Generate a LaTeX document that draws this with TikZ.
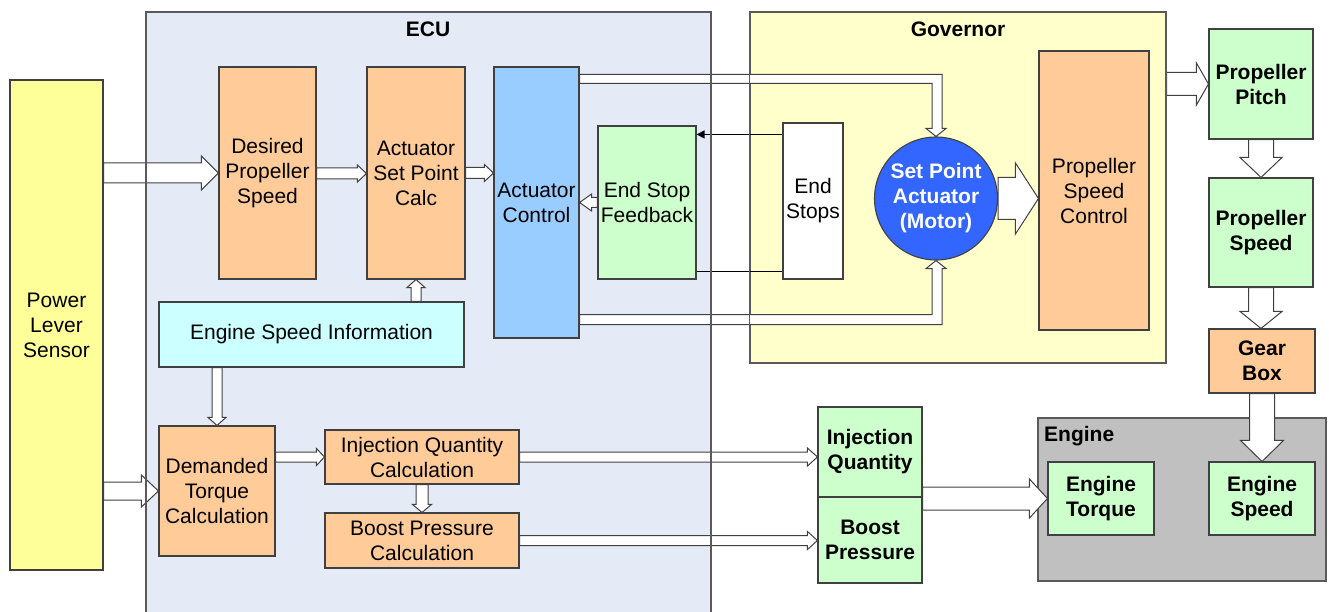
\documentclass[tikz,border=0pt]{standalone}
\usepackage{fontspec}
\setmainfont{Liberation Sans}
\usetikzlibrary{calc,arrows.meta}

\definecolor{levercol}{HTML}{FFFF99}
\definecolor{ecucol}{HTML}{E5EBF6}
\definecolor{govcol}{HTML}{FFFFCC}
\definecolor{orangecol}{HTML}{FFCC99}
\definecolor{bluecol}{HTML}{99CCFF}
\definecolor{greencol}{HTML}{CCFFCC}
\definecolor{cyancol}{HTML}{CCFFFF}
\definecolor{motorcol}{HTML}{3366FF}
\definecolor{enginecol}{HTML}{C0C0C0}
\definecolor{edgecol}{HTML}{404040}
\definecolor{framecol}{HTML}{5A5A5A}

\tikzset{
  box/.style={draw=edgecol, line width=1.1pt, inner sep=0pt, align=center,
    font=\fontsize{21}{25}\selectfont},
  boldbox/.style={box, font=\fontsize{21}{25}\selectfont\bfseries},
  frame/.style={draw=framecol, line width=1.1pt},
  title/.style={inner sep=0pt, font=\fontsize{21}{25}\selectfont\bfseries},
  blockarr/.style={draw=edgecol, fill=white, line width=1pt, line join=miter},
  thinarr/.style={draw=black, line width=1.3pt}
}

% straight block arrow: [style] from, to, shaft half width, head half width, head length
\newcommand\blockarrow[6][]{%
  \path ($(#3)!#6!(#2)$) coordinate (bac);
  \draw[blockarr,#1] ($(#2)!#4!90:(#3)$) -- ($(bac)!#4!-90:(#2)$)
    -- ($(bac)!#5!-90:(#2)$) -- (#3) -- ($(bac)!#5!90:(#2)$)
    -- ($(bac)!#4!90:(#2)$) -- ($(#2)!#4!-90:(#3)$) -- cycle;}

\begin{document}
\begin{tikzpicture}[x=1pt,y=-1pt]
\useasboundingbox (0,0) rectangle (1329,612);

% containers
\fill[ecucol] (146,612) rectangle (711,12);
\draw[frame] (146,612) -- (146,12) -- (711,12) -- (711,612);
\node[title] (ecut) at (428,29) {ECU};
\node[frame, fill=govcol, minimum width=416, minimum height=351, inner sep=0pt] (gov) at (958,187.5) {};
\node[title] (govt) at (958,29) {Governor};
\node[frame, fill=enginecol, minimum width=288, minimum height=163, inner sep=0pt] (eng) at (1182,499.5) {};
\node[title, anchor=west] (engt) at (1044,436) {Engine};

% blocks
\node[box, fill=levercol, minimum width=93, minimum height=490] (pls) at (56.5,325) {Power\\Lever\\Sensor};
\node[box, fill=orangecol, minimum width=97, minimum height=212] (dps) at (267.5,173) {Desired\\Propeller\\Speed};
\node[box, fill=orangecol, minimum width=98, minimum height=212] (aspc) at (416,173) {Actuator\\Set Point\\Calc};
\node[box, fill=bluecol, minimum width=85, minimum height=271] (ac) at (536.5,202.5) {Actuator\\Control};
\node[box, fill=greencol, minimum width=98, minimum height=153] (esf) at (647,202.5) {End Stop\\Feedback};
\node[box, fill=white, minimum width=60, minimum height=156] (es) at (813,201) {End\\Stops};
\node[boldbox, circle, fill=motorcol, text=white, minimum size=123] (spa) at (936,198.5) {Set Point\\Actuator\\(Motor)};
\node[box, fill=orangecol, minimum width=110, minimum height=279] (psc) at (1094,190.5) {Propeller\\Speed\\Control};
\node[box, fill=cyancol, minimum width=305, minimum height=65] (esi) at (311.5,334.5) {Engine Speed Information};
\node[box, fill=orangecol, minimum width=116, minimum height=130] (dtc) at (217,491) {Demanded\\Torque\\Calculation};
\node[box, fill=orangecol, minimum width=194, minimum height=54] (iqc) at (422,457) {Injection Quantity\\Calculation};
\node[box, fill=orangecol, minimum width=194, minimum height=55] (bpc) at (422,540.5) {Boost Pressure\\Calculation};
\node[boldbox, fill=greencol, minimum width=104, minimum height=90] (iq) at (870,452) {Injection\\Quantity};
\node[boldbox, fill=greencol, minimum width=104, minimum height=86] (bp) at (870,540) {Boost\\Pressure};
\node[boldbox, fill=greencol, minimum width=106, minimum height=73] (et) at (1101,498.5) {Engine\\Torque};
\node[boldbox, fill=greencol, minimum width=106, minimum height=73] (esp) at (1262,498.5) {Engine\\Speed};
\node[boldbox, fill=greencol, minimum width=104, minimum height=110] (pp) at (1261,84) {Propeller\\Pitch};
\node[boldbox, fill=greencol, minimum width=104, minimum height=109] (ps) at (1261,232.5) {Propeller\\Speed};
\node[boldbox, fill=orangecol, minimum width=106, minimum height=64] (gb) at (1262,361) {Gear\\Box};

% block arrows
\blockarrow{pls.east |- dps.west}{dps.west}{10pt}{17pt}{17pt}
\blockarrow{pls.east |- dtc.west}{dtc.west}{9pt}{16pt}{17pt}
\blockarrow{dps.east |- 0,173.5}{aspc.west |- 0,173.5}{5.5pt}{8.5pt}{9pt}
\blockarrow{aspc.east}{aspc.east -| ac.west}{5.5pt}{8.5pt}{9pt}
\blockarrow{esi.north -| aspc.south}{aspc.south}{5pt}{9pt}{8pt}
\blockarrow{esi.south -| dtc.north}{dtc.north}{5pt}{9pt}{8pt}
\blockarrow{dtc.east |- iqc.west}{iqc.west}{5pt}{8.5pt}{8pt}
\blockarrow{iqc.south}{bpc.north}{6pt}{9.5pt}{8pt}
\blockarrow{iqc.east}{iqc.east -| iq.west}{5pt}{9pt}{10pt}
\blockarrow{bpc.east}{bpc.east -| bp.west}{5pt}{9pt}{10pt}
\blockarrow{iq.south east |- et.west}{et.west}{11.5pt}{19.5pt}{18pt}
\blockarrow{esf.west}{esf.west -| ac.east}{5pt}{8.5pt}{12pt}
\blockarrow{spa.east}{spa.east -| psc.west}{21pt}{35.5pt}{23pt}
\blockarrow{gov.east |- pp.west}{pp.west}{11.5pt}{21pt}{12pt}
\blockarrow{pp.south}{ps.north}{12.5pt}{21pt}{20pt}
\blockarrow{ps.south}{ps.south |- gb.north}{12.5pt}{21pt}{17pt}
\blockarrow{gb.south}{esp.north}{12.5pt}{21.5pt}{21pt}

% elbow arrows from the actuator control to the motor
\coordinate (ctop) at ([yshift=-12.5pt]ac.north east);
\coordinate (cbot) at ([yshift=19pt]ac.south east);
\draw[blockarr] let \p1=(ctop), \p2=(spa.north) in
  (\x1,\y1+4.5pt) -- (\x2+6pt,\y1+4.5pt) -- (\x2+6pt,\y2+8pt) -- (\x2+10pt,\y2+8pt)
  -- (\p2) -- (\x2-10pt,\y2+8pt) -- (\x2-4pt,\y2+8pt) -- (\x2-4pt,\y1-4.5pt)
  -- (\x1,\y1-4.5pt) -- cycle;
\draw[blockarr] let \p1=(cbot), \p2=(spa.south) in
  (\x1,\y1+5pt) -- (\x2-4pt,\y1+5pt) -- (\x2-4pt,\y2-8pt) -- (\x2-10pt,\y2-8pt)
  -- (\p2) -- (\x2+10pt,\y2-8pt) -- (\x2+6pt,\y2-8pt) -- (\x2+6pt,\y1-5pt)
  -- (\x1,\y1-5pt) -- cycle;

% end stop signal lines
\coordinate (stopa) at ([yshift=-12pt]es.north west);
\coordinate (stopb) at ([yshift=8pt]es.south west);
\draw[thinarr, -{Triangle[length=8pt,width=8pt]}] (stopa) -- (stopa -| esf.east);
\draw[thinarr] (stopb) -- (stopb -| esf.east);

% container edges stay visible over the arrows
\draw[frame] (146,612) -- (146,12) -- (711,12) -- (711,612);
\draw[frame] (gov.south west) rectangle (gov.north east);
\end{tikzpicture}
\end{document}
